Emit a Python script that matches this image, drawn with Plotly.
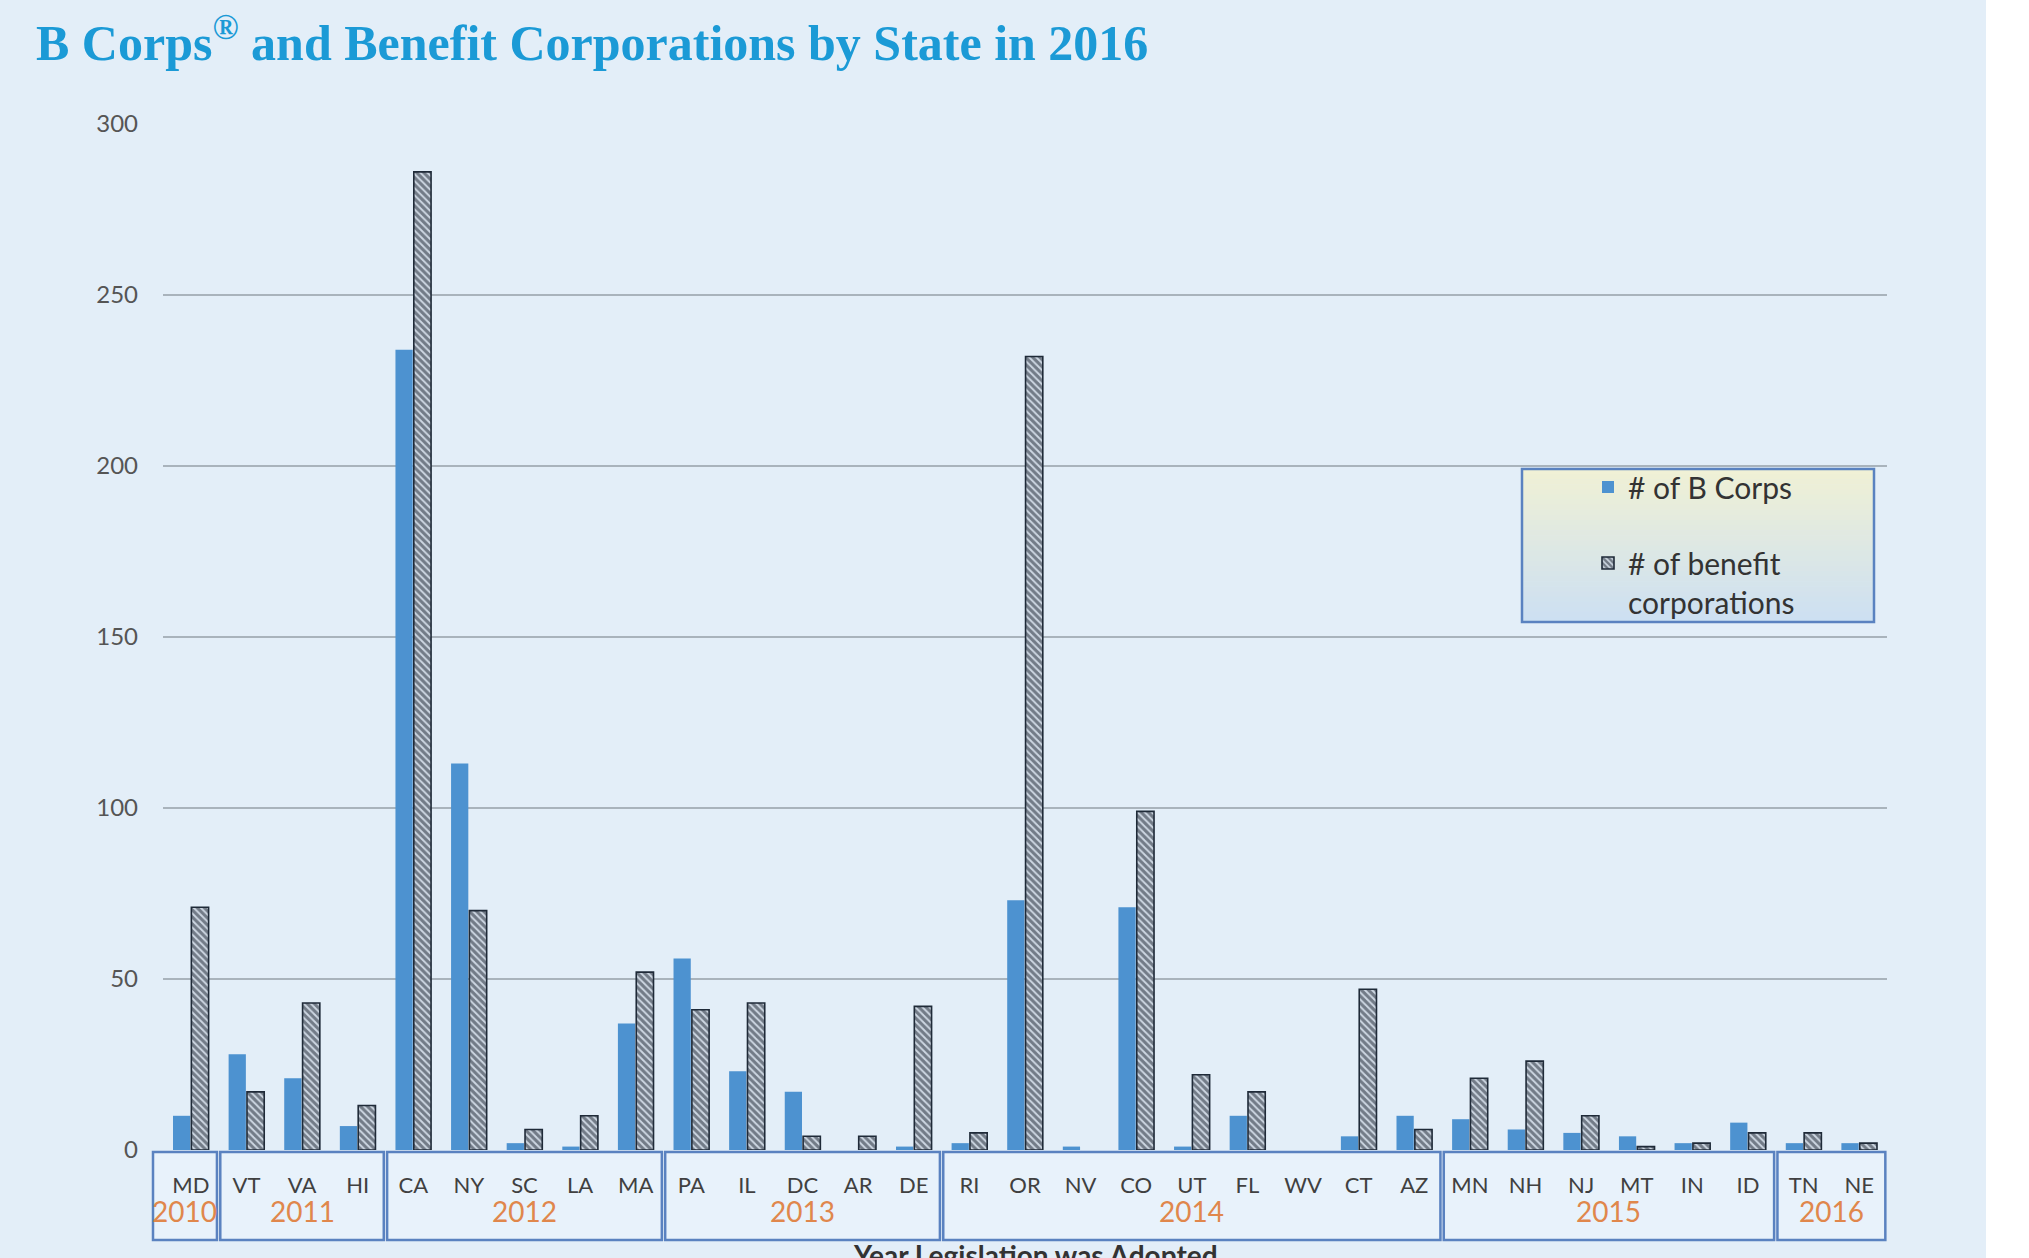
import plotly.graph_objects as go

# ---------------- data ----------------
states = ["MD", "VT", "VA", "HI", "CA", "NY", "SC", "LA", "MA", "PA", "IL", "DC", "AR", "DE",
          "RI", "OR", "NV", "CO", "UT", "FL", "WV", "CT", "AZ", "MN", "NH", "NJ", "MT", "IN",
          "ID", "TN", "NE"]
b_corps = [10, 28, 21, 7, 234, 113, 2, 1, 37, 56, 23, 17, 0, 1,
           2, 73, 1, 71, 1, 10, 0, 4, 10, 9, 6, 5, 4, 2,
           8, 2, 2]
benefit_corps = [71, 17, 43, 13, 286, 70, 6, 10, 52, 41, 43, 4, 4, 42,
                 5, 232, 0, 99, 22, 17, 0, 47, 6, 21, 26, 10, 1, 2,
                 5, 5, 2]
years = ["2010", "2011", "2012", "2013", "2014", "2015", "2016"]
year_first = ["MD", "VT", "CA", "PA", "RI", "MN", "TN"]
year_last = ["MD", "HI", "MA", "DE", "AZ", "ID", "NE"]
y_ticks = [0, 50, 100, 150, 200, 250, 300]

# ---------------- styling ----------------
W, H = 2029, 1258
L, R, T, B = 163, 142, 124, 108
PW, PH = W - L - R, H - T - B
BG = "#e3eef8"
BLUE = "#4d92d0"
BOX = "#5a82c0"
ORANGE = "#e0874c"
TXT = "#404040"
FONT = "Lato"
NCAT = len(states)


def py(px_y):
    """pixel y (from top) -> paper y"""
    return (H - B - px_y) / PH


def px_x(px):
    return (px - L) / PW


def cat_paper(c):
    """category position -> paper x (axis range is [-0.5, n-0.5])"""
    return (c + 0.5) / NCAT


fig = go.Figure()
fig.add_trace(go.Bar(
    x=states, y=b_corps, name="# of B Corps",
    marker=dict(color=BLUE, line=dict(width=0)),
    legendgroup="a",
))
fig.add_trace(go.Bar(
    x=states, y=benefit_corps, name="# of benefit<br>corporations",
    marker=dict(color="#c9d3de",
                line=dict(color="#1f2a38", width=[1.6 if v > 0 else 0 for v in benefit_corps]),
                pattern=dict(shape="\\", size=5, solidity=0.62,
                             fgcolor="#18202c", bgcolor="#cdd7e2")),
    legendgroup="b",
))

shapes = []
annotations = []

# white strip at right edge
shapes.append(dict(type="rect", xref="paper", yref="paper",
                   x0=px_x(1986), x1=px_x(W + 5), y0=py(H + 5), y1=py(-5),
                   fillcolor="white", line=dict(width=0), layer="below"))

# year boxes below the axis
idx = {s: i for i, s in enumerate(states)}
for k, yr in enumerate(years):
    a, b = idx[year_first[k]], idx[year_last[k]]
    x0 = cat_paper(a - 0.5 + 0.03) if k > 0 else px_x(153)
    x1 = cat_paper(b + 0.5 - 0.03)
    shapes.append(dict(type="rect", xref="paper", yref="paper",
                       x0=x0, x1=x1, y0=py(1240), y1=py(1152),
                       fillcolor="#e8f2fb", layer="below",
                       line=dict(color=BOX, width=2.5)))
    annotations.append(dict(x=(x0 + x1) / 2, y=py(1211), xref="paper", yref="paper",
                            text=yr, showarrow=False, xanchor="center", yanchor="middle",
                            font=dict(family=FONT, size=28, color=ORANGE)))

# legend background (vertical gradient) and border
lx0, lx1, ly0, ly1 = 1522, 1874, 469, 622
n = 30
c_top = (240, 241, 214)
c_bot = (205, 224, 242)
for i in range(n):
    t = i / (n - 1)
    c = tuple(int(c_top[j] + (c_bot[j] - c_top[j]) * t) for j in range(3))
    ya = ly0 + (ly1 - ly0) * i / n
    yb = ly0 + (ly1 - ly0) * (i + 1) / n
    shapes.append(dict(type="rect", xref="paper", yref="paper",
                       x0=px_x(lx0), x1=px_x(lx1), y0=py(yb + 0.5), y1=py(ya),
                       fillcolor="rgb(%d,%d,%d)" % c, line=dict(width=0), layer="above"))
shapes.append(dict(type="rect", xref="paper", yref="paper",
                   x0=px_x(lx0), x1=px_x(lx1), y0=py(ly1), y1=py(ly0),
                   fillcolor="rgba(0,0,0,0)", line=dict(color=BOX, width=2.5), layer="above"))

# axis title (cut off at the bottom of the page)
annotations.append(dict(x=px_x(1035), y=py(1236), xref="paper", yref="paper",
                        text="<b>Year Legislation was Adopted</b>", showarrow=False,
                        xanchor="center", yanchor="top",
                        font=dict(family=FONT, size=28, color="#333333")))

fig.update_layout(
    width=W, height=H,
    margin=dict(l=L, r=R, t=T, b=B, pad=0),
    paper_bgcolor=BG, plot_bgcolor=BG,
    barmode="group", bargap=0.34, bargroupgap=0.06,
    title=dict(text="<b>B Corps<sup>®</sup> and Benefit Corporations by State in 2016</b>",
               x=36 / W, xanchor="left", xref="container",
               y=1 - 25 / H, yanchor="top", yref="container",
               font=dict(family="Liberation Serif", size=50, color="#1b9ad6")),
    showlegend=True,
    legend=dict(x=px_x(1588), y=py(461), xanchor="left", yanchor="top",
                bgcolor="rgba(0,0,0,0)", borderwidth=0, valign="top",
                font=dict(family=FONT, size=30, color="#333333"),
                tracegroupgap=34, itemwidth=30),
    xaxis=dict(type="category", tickfont=dict(family=FONT, size=22, color=TXT),
               showgrid=False, showline=False, zeroline=False, ticks="",
               ticklabelstandoff=20, range=[-0.5, NCAT - 0.5]),
    yaxis=dict(range=[0, 300], tickvals=y_ticks, showgrid=True, gridcolor="#a9b3bc",
               gridwidth=2, zeroline=False, showline=False, ticks="",
               tickfont=dict(family=FONT, size=24, color="#555555"),
               ticklabelstandoff=24),
    shapes=shapes, annotations=annotations,
)

fig.write_html("out.html", config={"displayModeBar": False},
               post_script="document.body.style.margin='0';document.body.style.overflow='hidden';")
